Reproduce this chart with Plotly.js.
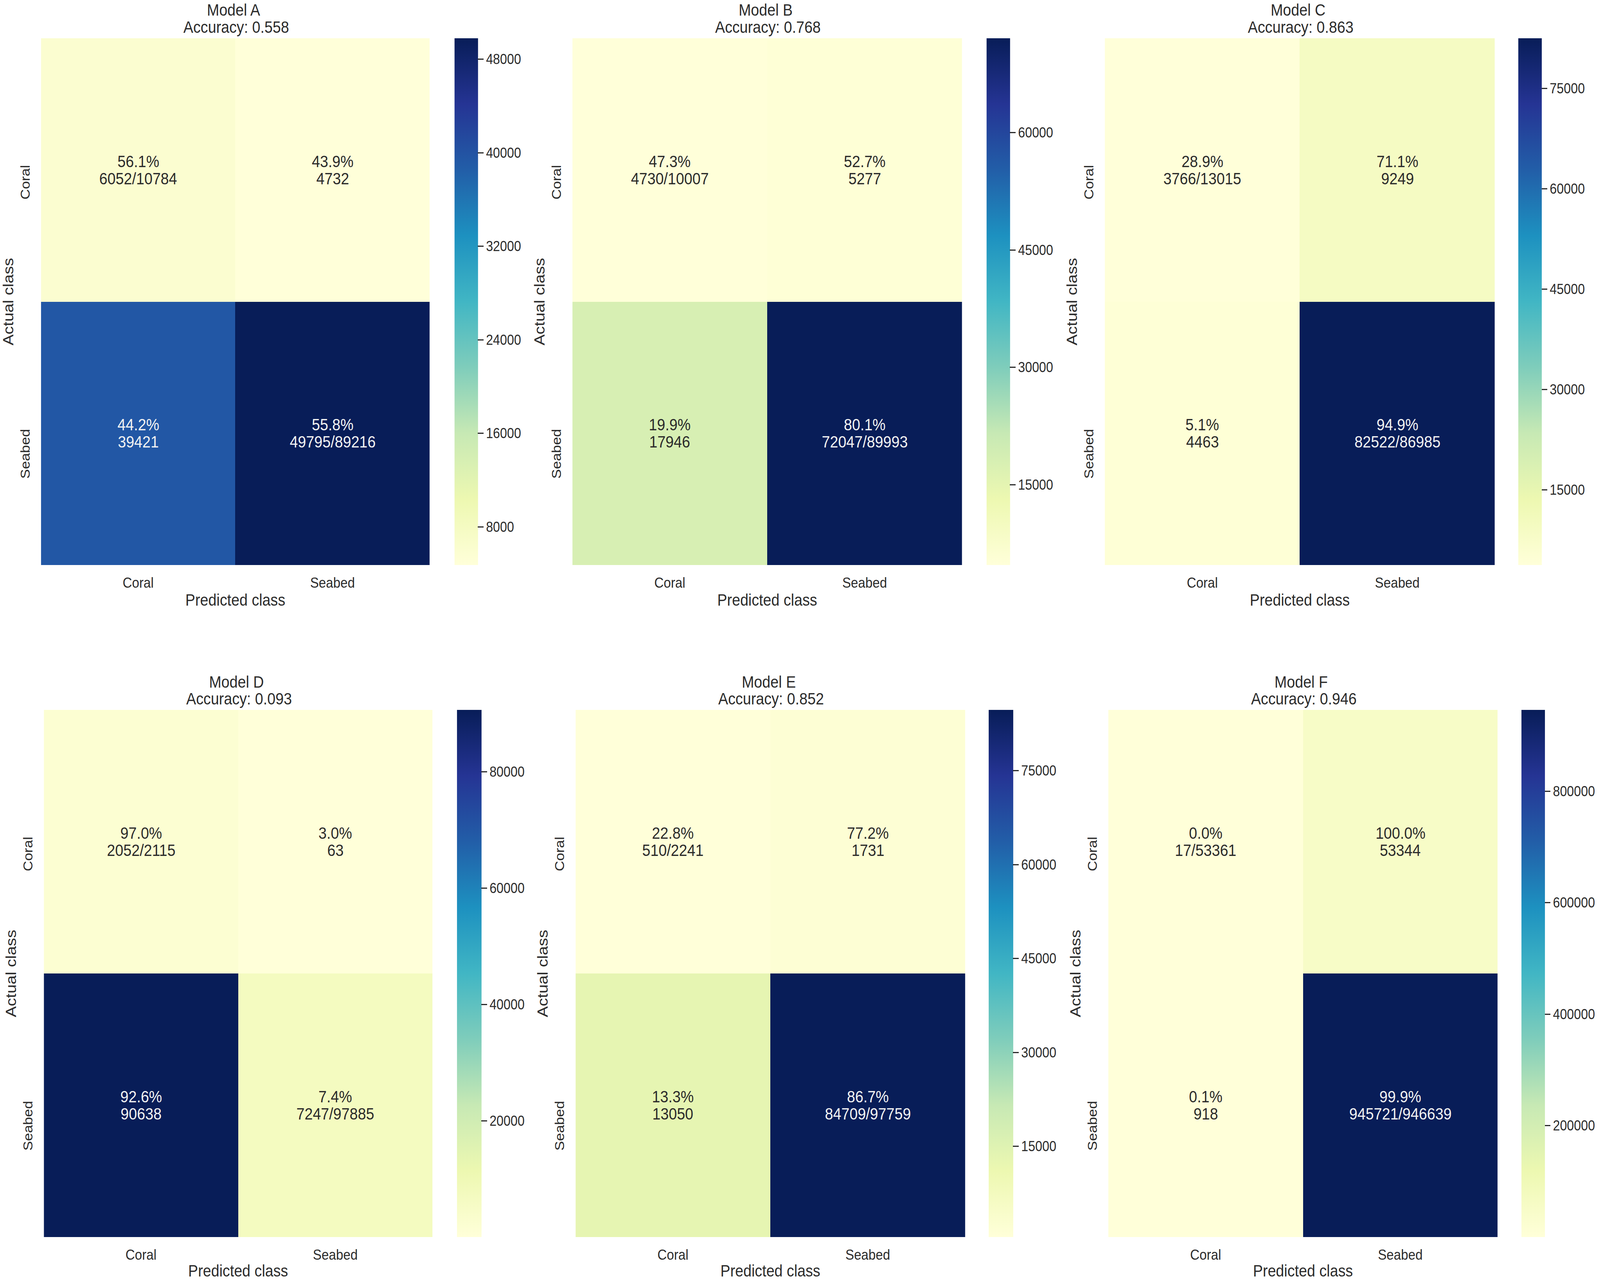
<!DOCTYPE html>
<html><head><meta charset="utf-8">
<script src="https://cdn.plot.ly/plotly-3.0.1.min.js"></script>
<style>html,body{margin:0;padding:0;background:#fff;overflow:hidden}#chart{transform-origin:0 0;width:4562px;height:3278px}</style>
</head><body><div id="chart"></div>
<script>
const W = 4562, H = 3278;
const predictedClasses = ['Coral', 'Seabed'];
const actualClasses = ['Coral', 'Seabed'];
const modelNames = ['Model A', 'Model B', 'Model C', 'Model D', 'Model E', 'Model F'];
const accuracies = ['0.558', '0.768', '0.863', '0.093', '0.852', '0.946'];
const countsA = [[6052, 4732], [39421, 49795]];
const countsB = [[4730, 5277], [17946, 72047]];
const countsC = [[3766, 9249], [4463, 82522]];
const countsD = [[2052, 63], [90638, 7247]];
const countsE = [[510, 1731], [13050, 84709]];
const countsF = [[17, 53344], [918, 945721]];
const percentA = [['56.1%', '43.9%'], ['44.2%', '55.8%']];
const percentB = [['47.3%', '52.7%'], ['19.9%', '80.1%']];
const percentC = [['28.9%', '71.1%'], ['5.1%', '94.9%']];
const percentD = [['97.0%', '3.0%'], ['92.6%', '7.4%']];
const percentE = [['22.8%', '77.2%'], ['13.3%', '86.7%']];
const percentF = [['0.0%', '100.0%'], ['0.1%', '99.9%']];
const rowTotalsA = [10784, 89216];
const rowTotalsB = [10007, 89993];
const rowTotalsC = [13015, 86985];
const rowTotalsD = [2115, 97885];
const rowTotalsE = [2241, 97759];
const rowTotalsF = [53361, 946639];
const barTicksA = [8000, 16000, 24000, 32000, 40000, 48000];
const barTicksB = [15000, 30000, 45000, 60000];
const barTicksC = [15000, 30000, 45000, 60000, 75000];
const barTicksD = [20000, 40000, 60000, 80000];
const barTicksE = [15000, 30000, 45000, 60000, 75000];
const barTicksF = [200000, 400000, 600000, 800000];
const ylGnBu = ['#ffffd9', '#edf8b1', '#c7e9b4', '#7fcdbb', '#41b6c4', '#1d91c0', '#225ea8', '#253494', '#081d58'];

const allCounts = [countsA, countsB, countsC, countsD, countsE, countsF];
const allPercent = [percentA, percentB, percentC, percentD, percentE, percentF];
const allTotals = [rowTotalsA, rowTotalsB, rowTotalsC, rowTotalsD, rowTotalsE, rowTotalsF];
const allBarTicks = [barTicksA, barTicksB, barTicksC, barTicksD, barTicksE, barTicksF];

// panel frames, in reference pixels
const frames = [
  {l: 117, r: 1225, t: 98, b: 1447, cl: 1296, cr: 1363},
  {l: 1632, r: 2743, t: 98, b: 1447, cl: 2813, cr: 2880},
  {l: 3150, r: 4262, t: 98, b: 1447, cl: 4329, cr: 4396},
  {l: 125, r: 1233, t: 1818, b: 3168, cl: 1303, cr: 1373},
  {l: 1641, r: 2752, t: 1818, b: 3168, cl: 2819, cr: 2889},
  {l: 3160, r: 4270, t: 1818, b: 3168, cl: 4338, cr: 4405}
];

const ink = '#2b2b2b', FONT = '"Liberation Sans", Arial, sans-serif';
const scale = ylGnBu.map((c, i) => [i / (ylGnBu.length - 1), c]);
const traces = [], annotations = [], layout = {
  width: W, height: H, margin: {l: 0, r: 0, t: 0, b: 0, pad: 0},
  paper_bgcolor: '#fff', plot_bgcolor: '#fff', font: {family: FONT, size: 37, color: ink}
};

allCounts.forEach((z, k) => {
  const f = frames[k], id = k === 0 ? '' : String(k + 1);
  const flat = z.flat();
  const zmax = Math.max(...flat), zmin = Math.min(...flat);
  traces.push({
    type: 'heatmap', x: predictedClasses, y: actualClasses, z: z, xaxis: 'x' + id, yaxis: 'y' + id,
    colorscale: scale, zmin, zmax, hoverinfo: 'skip',
    colorbar: {
      x: f.cl / W, xanchor: 'left', y: 1 - f.b / H, yanchor: 'bottom',
      len: (f.b - f.t) / H, lenmode: 'fraction', thickness: f.cr - f.cl, thicknessmode: 'pixels',
      xpad: 0, ypad: 0, outlinewidth: 0, borderwidth: 0,
      tickmode: 'array', tickvals: allBarTicks[k], ticktext: allBarTicks[k].map(String),
      ticks: 'outside', ticklen: 16, tickwidth: 3, tickcolor: ink,
      tickfont: {family: FONT, size: 36, color: ink}
    }
  });
  layout['xaxis' + id] = {
    domain: [f.l / W, f.r / W], anchor: 'y' + id, type: 'category', showgrid: false, zeroline: false,
    showline: false, ticks: '', ticklabelstandoff: 20, tickfont: {family: FONT, size: 37, color: ink},
    title: {text: 'Predicted class', font: {family: FONT, size: 42, color: ink}, standoff: 9}
  };
  layout['yaxis' + id] = {
    domain: [1 - f.b / H, 1 - f.t / H], anchor: 'x' + id, type: 'category', autorange: 'reversed',
    showgrid: false, zeroline: false, showline: false, ticks: '',
    tickmode: 'array', tickvals: [0.055, 1.086], ticktext: actualClasses, tickangle: -90, ticklabelstandoff: 24,
    tickfont: {family: FONT, size: 37, color: ink},
    title: {text: 'Actual class', font: {family: FONT, size: 42, color: ink}, standoff: 0}
  };
  const mid = (f.l + f.r) / 2;
  [[modelNames[k], -5, 72], ['Accuracy: ' + accuracies[k], 2, 28]].forEach(([text, dx, up]) => {
    annotations.push({
      text, xref: 'paper', yref: 'paper', x: (mid + dx) / W, y: 1 - (f.t - up) / H,
      xanchor: 'center', yanchor: 'middle', showarrow: false, font: {family: FONT, size: 42, color: ink}
    });
  });
  z.forEach((row, i) => row.forEach((v, j) => {
    const color = (v - zmin) / (zmax - zmin) > 0.5 ? '#f2f2f2' : ink;
    const second = i === j ? v + '/' + allTotals[k][i] : String(v);
    [[allPercent[k][i][j], 22], [second, -22]].forEach(([text, shift]) => {
      annotations.push({
        text, xref: 'x' + id, yref: 'y' + id, x: j, y: i, yshift: shift,
        xanchor: 'center', yanchor: 'middle', showarrow: false, font: {family: FONT, size: 42, color}
      });
    });
  }));
});
layout.annotations = annotations;
// The window may be narrower than the reference: fit the full width into it.
const fit = Math.min(1, window.innerWidth / W);
document.getElementById('chart').style.transform = 'scaleX(' + fit + ')';
Plotly.newPlot('chart', traces, layout, {displayModeBar: false, responsive: false});
</script></body></html>
